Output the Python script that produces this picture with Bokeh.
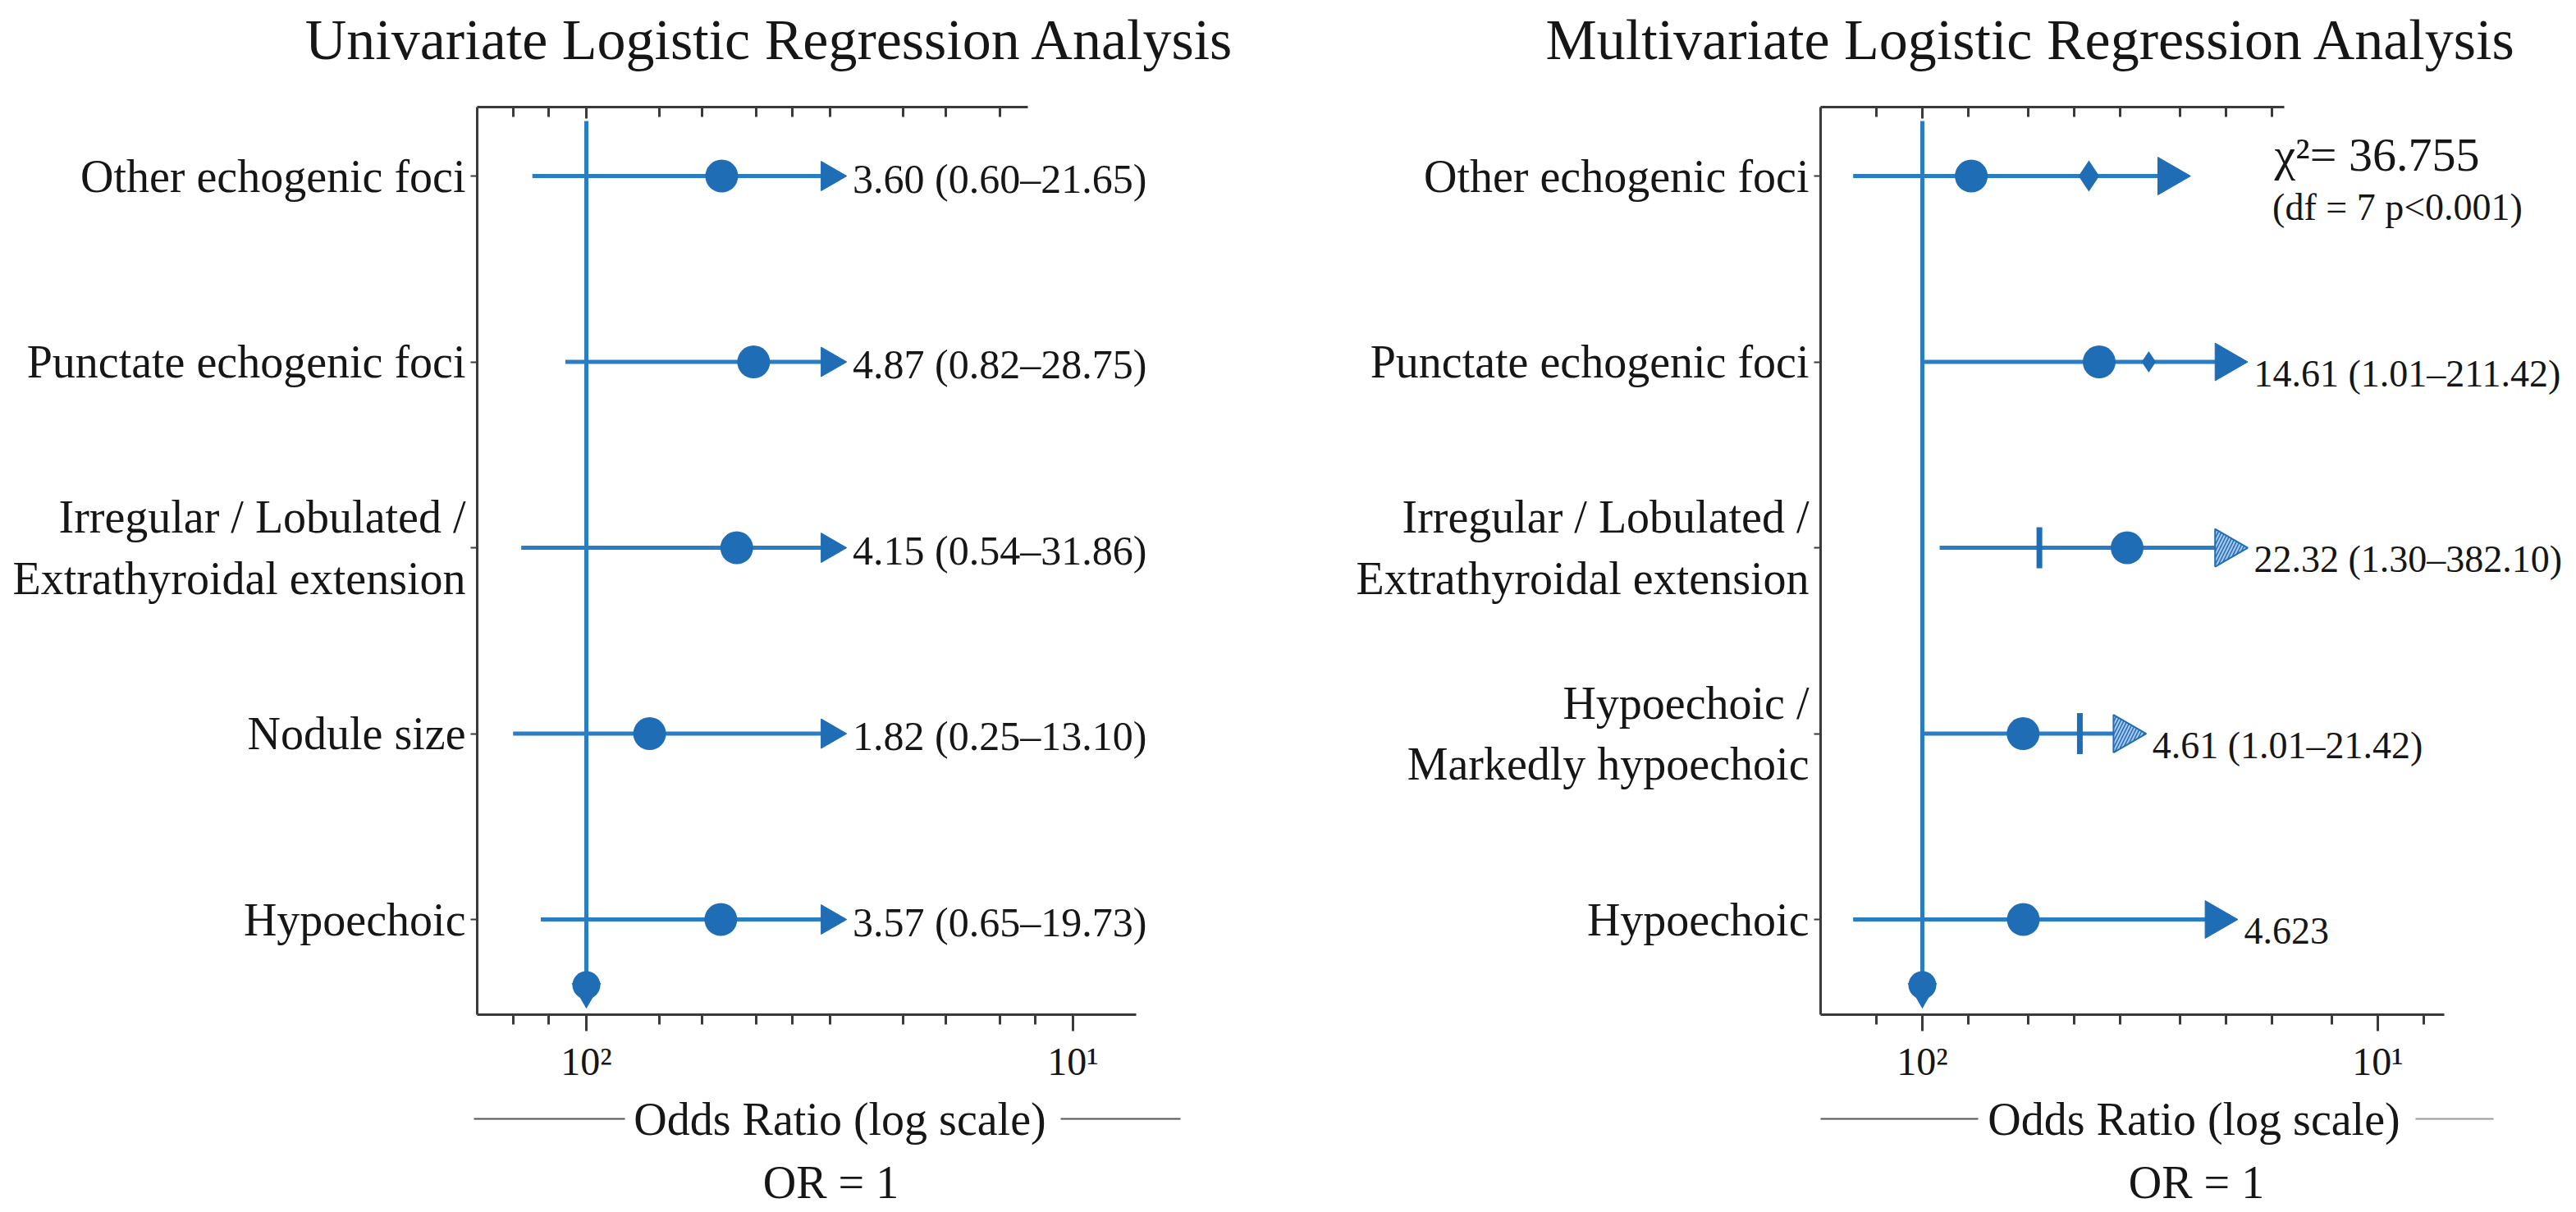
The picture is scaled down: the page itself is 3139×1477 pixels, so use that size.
import numpy as np
from bokeh.plotting import figure
from bokeh.layouts import row, column
from bokeh.models import (ColumnDataSource, FixedTicker, LogAxis, LabelSet,
                          CDSView, IndexFilter)
from bokeh.core.properties import value
from bokeh.embed import file_html
from bokeh.resources import INLINE

# ---------------------------------------------------------------- data
uni_title = "Univariate Logistic Regression Analysis"
uni_factors = [
    "Other echogenic foci",
    "Punctate echogenic foci",
    "Irregular / Lobulated /\nExtrathyroidal extension",
    "Nodule size",
    "Hypoechoic",
]
uni_or = [3.60, 4.87, 4.15, 1.82, 3.57]
uni_lo = [0.60, 0.82, 0.54, 0.25, 0.65]
uni_hi = [21.65, 28.75, 31.86, 13.10, 19.73]
uni_text = [
    "3.60 (0.60–21.65)",
    "4.87 (0.82–28.75)",
    "4.15 (0.54–31.86)",
    "1.82 (0.25–13.10)",
    "3.57 (0.65–19.73)",
]

multi_title = "Multivariate Logistic Regression Analysis"
multi_factors = [
    "Other echogenic foci",
    "Punctate echogenic foci",
    "Irregular / Lobulated /\nExtrathyroidal extension",
    "Hypoechoic /\nMarkedly hypoechoic",
    "Hypoechoic",
]
multi_or = [2.1, 14.61, 22.32, 4.61, 4.623]
multi_lo = [0.30, 1.01, 1.30, 1.01, 0.30]
multi_hi = [42.0, 211.42, 382.10, 21.42, 86.0]
multi_text = [
    "",
    "14.61 (1.01–211.42)",
    "22.32 (1.30–382.10)",
    "4.61 (1.01–21.42)",
    "4.623",
]
# second estimate drawn on the first four multivariate rows
multi_mark = [12.5, 31.0, 5.9, 10.9]

chi_text = "χ²= 36.755"
chi_note = "(df = 7 p<0.001)"

tick_labels = ["10²", "10¹"]
x_label = "Odds Ratio (log scale)"
ref_label = "OR = 1"

# ---------------------------------------------------------------- styling / layout
SERIF = "Liberation Serif"
LINE_BLUE = "#2a7cc3"
MARK_BLUE = "#1f6db5"
HATCH_FILL = "#a9c8ea"
AXIS_GREY = "#3a3a3a"
TEXT = "#161616"

W, H = 3139, 1477
HEADER_H, FOOT_H = 100, 147
MAIN_H = H - HEADER_H - FOOT_H
FRAME_TOP, FRAME_BOTTOM = 130, 1236          # page pixels
ROWS = [4, 3, 2, 1, 0]
Y_RANGE = (-0.512, 4.371)
PX_PER_ROW = (FRAME_BOTTOM - FRAME_TOP) / (Y_RANGE[1] - Y_RANGE[0])


def y_up(px):
    """data y lying px pixels above the bottom of the frame"""
    return Y_RANGE[0] + px / PX_PER_ROW


def log_at(page_x, ref_x, px_per_decade):
    """odds ratio found at a page x for a log axis with OR = 1 at ref_x"""
    return 10 ** ((page_x - ref_x) / px_per_decade)


def style_x_axis(ax):
    ax.axis_line_width = 3
    ax.axis_line_color = AXIS_GREY
    ax.major_tick_line_width = 3
    ax.minor_tick_line_width = 3
    ax.major_tick_line_color = AXIS_GREY
    ax.minor_tick_line_color = AXIS_GREY


def ticker_upto(ticks, minor, lo, hi):
    keep = lambda vals: [v for v in vals if lo <= v <= hi]
    return FixedTicker(ticks=keep(ticks), minor_ticks=keep(minor))


def forest_panel(page_x0, width, frame_left, axis_right, top_right, ref_x, ppd,
                 ticks, minor, window, factors, ors, lo, hi, texts, label_size,
                 arrow_size, label_dx, label_dy, hatched=()):
    x_range = (log_at(frame_left, ref_x, ppd), log_at(page_x0 + width, ref_x, ppd))
    bottom_end = log_at(axis_right, ref_x, ppd)
    top_end = log_at(top_right, ref_x, ppd)
    p = figure(width=width, height=MAIN_H, x_axis_type="log", x_range=x_range,
               y_range=Y_RANGE, output_backend="svg", toolbar_location=None,
               min_border_left=frame_left - page_x0, min_border_right=0,
               min_border_top=FRAME_TOP - HEADER_H,
               min_border_bottom=HEADER_H + MAIN_H - FRAME_BOTTOM)
    p.outline_line_color = None
    p.grid.visible = False
    p.background_fill_color = "white"
    p.border_fill_color = "white"

    # bottom (log) axis, running only under the data area
    xa = p.below[0]
    xa.ticker = ticker_upto(ticks, minor, x_range[0], bottom_end)
    xa.bounds = (x_range[0], bottom_end)
    xa.major_label_overrides = {t: lab for t, lab in zip(ticks, tick_labels)}
    style_x_axis(xa)
    xa.major_tick_out = 20
    xa.major_tick_in = 0
    xa.minor_tick_out = 12
    xa.minor_tick_in = 0
    xa.major_label_standoff = 10
    xa.major_label_text_font = SERIF
    xa.major_label_text_font_size = "48px"
    xa.major_label_text_color = TEXT

    # top axis: inward ticks only, along part of the top edge
    ta = LogAxis(ticker=ticker_upto(ticks, minor, x_range[0], top_end),
                 major_label_overrides={t: "" for t in ticks},
                 bounds=(x_range[0], top_end))
    style_x_axis(ta)
    ta.major_tick_out = 0
    ta.major_tick_in = 14
    ta.minor_tick_out = 0
    ta.minor_tick_in = 12
    ta.major_label_standoff = 0
    ta.major_label_text_font_size = "1px"
    p.add_layout(ta, "above")

    # factor axis
    ya = p.yaxis[0]
    ya.ticker = FixedTicker(ticks=ROWS)
    ya.major_label_overrides = {r: f for r, f in zip(ROWS, factors)}
    ya.minor_tick_line_color = None
    ya.axis_line_width = 3
    ya.axis_line_color = AXIS_GREY
    ya.major_tick_line_width = 2
    ya.major_tick_line_color = AXIS_GREY
    ya.major_tick_out = 8
    ya.major_tick_in = 0
    ya.major_label_standoff = 6
    ya.major_label_text_font = SERIF
    ya.major_label_text_font_size = "56px"
    ya.major_label_text_color = TEXT

    # reference line at OR = 1 ending in a drop marker
    p.segment(x0=[1], y0=[y_up(FRAME_BOTTOM - 147)], x1=[1], y1=[y_up(40)],
              line_color=LINE_BLUE, line_width=5)
    p.scatter(x=[1], y=[y_up(36)], marker="circle", size=34,
              fill_color=MARK_BLUE, line_color=None)
    p.scatter(x=[1], y=[y_up(28)], marker="inverted_triangle", size=36,
              fill_color=MARK_BLUE, line_color=None)

    # interval lines clipped to the display window
    win_lo, win_hi = window
    src = ColumnDataSource(dict(
        y=ROWS,
        est=ors,
        x0=np.maximum(lo, win_lo),
        x1=np.minimum(hi, win_hi),
        text=texts,
    ))
    p.segment("x0", "y", "x1", "y", source=src, line_color=LINE_BLUE, line_width=5)

    plain = [i for i in range(len(ROWS)) if i not in hatched]
    p.scatter("x1", "y", source=src, view=CDSView(filter=IndexFilter(plain)),
              marker="triangle", angle=-np.pi / 2, size=arrow_size,
              fill_color=MARK_BLUE, line_color=MARK_BLUE)
    if hatched:
        p.scatter("x1", "y", source=src,
                  view=CDSView(filter=IndexFilter(list(hatched))),
                  marker="triangle", angle=-np.pi / 2, size=arrow_size,
                  fill_color=HATCH_FILL, line_color=MARK_BLUE, line_width=2,
                  hatch_pattern="/", hatch_color=MARK_BLUE, hatch_scale=8,
                  hatch_weight=1.5)

    p.scatter("est", "y", source=src, marker="circle", size=40,
              fill_color=MARK_BLUE, line_color=None)

    p.add_layout(LabelSet(x="x1", y="y", text="text", source=src,
                          x_offset=label_dx, y_offset=label_dy,
                          text_baseline="middle", text_align="left",
                          text_font=value(SERIF), text_font_size=f"{label_size}px",
                          text_color=TEXT))
    return p


# ---------------------------------------------------------------- left panel
L_W = 1570
left_minor = [m * 10.0 ** e for e in range(-1, 3) for m in (1, 2, 3, 5, 7)]
left_minor = [v for v in left_minor if v not in (1, 100)]
p1 = forest_panel(0, L_W, frame_left=581, axis_right=1384, top_right=1252,
                  ref_x=714, ppd=296.5, ticks=[1, 100], minor=left_minor,
                  window=(0.5, 10), factors=uni_factors, ors=uni_or,
                  lo=uni_lo, hi=uni_hi, texts=uni_text, label_size=50,
                  arrow_size=36, label_dx=28, label_dy=-3)

# ---------------------------------------------------------------- right panel
R_W = W - L_W
right_minor = [m * 10.0 ** e for e in range(-1, 4) for m in (1, 2, 5)]
right_minor = [v for v in right_minor if v not in (1, 1000)]
p2 = forest_panel(L_W, R_W, frame_left=2218, axis_right=2978, top_right=2783,
                  ref_x=2342, ppd=185, ticks=[1, 1000], minor=right_minor,
                  window=(0.35, 100), factors=multi_factors, ors=multi_or,
                  lo=multi_lo, hi=multi_hi, texts=multi_text, label_size=46,
                  arrow_size=46, label_dx=34, label_dy=-14, hatched=(2, 3))

# second estimate marks
mark_src = ColumnDataSource(dict(x=multi_mark, y=ROWS[:4]))
p2.scatter("x", "y", source=mark_src, view=CDSView(filter=IndexFilter([0])),
           marker="diamond", size=38, fill_color=MARK_BLUE, line_color=None)
p2.scatter("x", "y", source=mark_src, view=CDSView(filter=IndexFilter([1])),
           marker="diamond", size=26, fill_color=MARK_BLUE, line_color=None)
p2.scatter("x", "y", source=mark_src, view=CDSView(filter=IndexFilter([2, 3])),
           marker="dash", angle=np.pi / 2, size=50, line_color=MARK_BLUE,
           line_width=7)

# model fit note, placed in page pixels converted to the panel's data space
fit_src = ColumnDataSource(dict(
    x=[log_at(2896, 2342, 185), log_at(2921, 2342, 185)],
    y=[y_up(FRAME_BOTTOM - 188), y_up(FRAME_BOTTOM - 252)],
    text=[chi_text, chi_note],
    size=["58px", "46px"],
))
p2.text("x", "y", text="text", source=fit_src, text_align="center",
        text_baseline="middle", text_font=value(SERIF), text_font_size="size",
        text_color=TEXT)


# ---------------------------------------------------------------- header / footer strips
def strip(height, top):
    s = figure(width=W, height=height, x_range=(0, W), y_range=(top + height, top),
               output_backend="svg", toolbar_location=None, min_border=0)
    s.axis.visible = False
    s.grid.visible = False
    s.outline_line_color = None
    s.background_fill_color = "white"
    s.border_fill_color = "white"
    return s


header = strip(HEADER_H, 0)
header.text(x=[938, 2475], y=[48, 48], text=[uni_title, multi_title],
            text_align="center", text_baseline="middle",
            text_font=value(SERIF), text_font_size="70px", text_color=TEXT)

footer = strip(FOOT_H, H - FOOT_H)
footer.text(x=[1023, 2673], y=[1363, 1363], text=[x_label, x_label],
            text_align="center", text_baseline="middle",
            text_font=value(SERIF), text_font_size="56px", text_color=TEXT)
footer.text(x=[1012, 2676], y=[1440, 1440], text=[ref_label, ref_label],
            text_align="center", text_baseline="middle",
            text_font=value(SERIF), text_font_size="56px", text_color=TEXT)
footer.segment(x0=[577, 1292, 2218], y0=[1363] * 3, x1=[761, 1438, 2410],
               y1=[1363] * 3, line_color="#555555", line_width=2)
footer.segment(x0=[2943], y0=[1363], x1=[3038], y1=[1363],
               line_color="#9a9a9a", line_width=2)

layout = column(header, row(p1, p2, spacing=0), footer, spacing=0)
open("out.html", "w").write(file_html(layout, INLINE))
